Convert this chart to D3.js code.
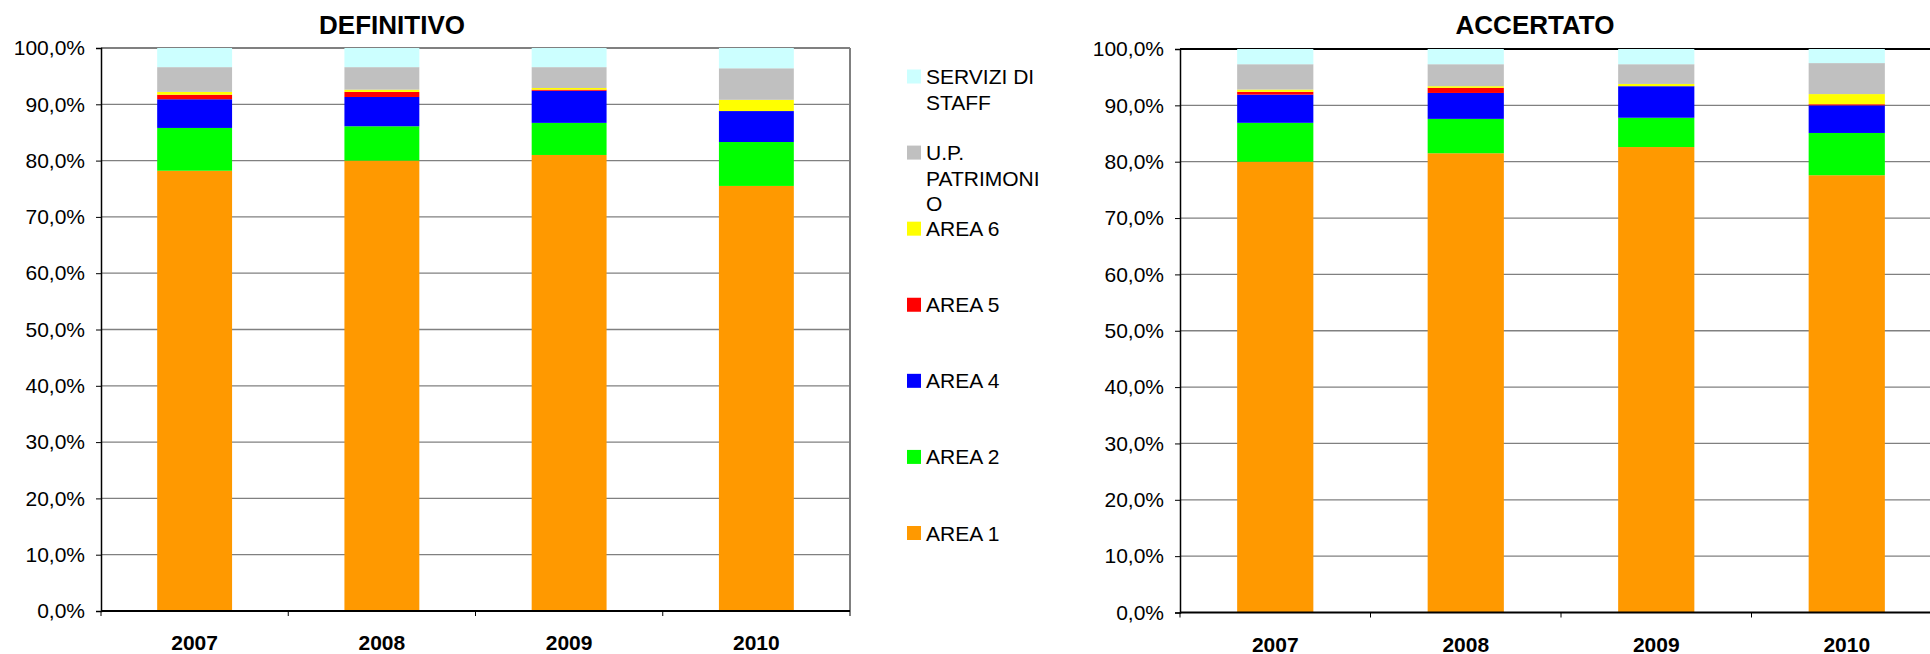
<!DOCTYPE html>
<html>
<head>
<meta charset="utf-8">
<script src="https://cdn.jsdelivr.net/npm/d3@7"></script>
<style>
  html, body { margin: 0; padding: 0; background: #fff; }
  svg { display: block; font-family: "Liberation Sans", Arial, sans-serif; }
</style>
</head>
<body>
<div id="chart"></div>
<script>
// categories and series
const years = ["2007", "2008", "2009", "2010"];
const seriesKeys = ["a1", "a2", "a4", "a5", "a6", "patr", "staff"];
const seriesColors = ["#FF9900", "#00FF00", "#0000FF", "#FF0000", "#FFFF00", "#C0C0C0", "#CCFFFF"];
const legendLines = [["AREA 1"], ["AREA 2"], ["AREA 4"], ["AREA 5"], ["AREA 6"], ["U.P.", "PATRIMONI", "O"], ["SERVIZI DI", "STAFF"]];
const yTicks = [0, 0.1, 0.2, 0.3, 0.4, 0.5, 0.6, 0.7, 0.8, 0.9, 1];

// DEFINITIVO (% of total)
const defArea1 = [78.2, 80.0, 81.0, 75.5];
const defArea2 = [7.6, 6.1, 5.7, 7.8];
const defArea4 = [5.1, 5.2, 5.7, 5.5];
const defArea5 = [0.8, 0.9, 0.2, 0.0];
const defArea6 = [0.5, 0.4, 0.3, 2.0];
const defPatr = [4.4, 4.0, 3.7, 5.6];
const defStaff = [3.4, 3.4, 3.4, 3.6];

// ACCERTATO (% of total)
const accArea1 = [80.0, 81.5, 82.6, 77.6];
const accArea2 = [6.9, 6.1, 5.2, 7.5];
const accArea4 = [5.0, 4.6, 5.6, 4.9];
const accArea5 = [0.5, 0.9, 0.0, 0.2];
const accArea6 = [0.4, 0.3, 0.4, 1.8];
const accPatr = [4.5, 3.9, 3.5, 5.5];
const accStaff = [2.7, 2.7, 2.7, 2.5];

const W = 1930, H = 654;
const it = d3.formatLocale({ decimal: ",", thousands: ".", grouping: [3], currency: ["", "€"] });
const pct = it.format(".1%");

const svg = d3.select("#chart").append("svg")
  .attr("width", W).attr("height", H);

function buildRows(cols) {
  return years.map((y, i) => {
    const row = { year: y };
    seriesKeys.forEach((k, j) => row[k] = cols[j][i]);
    return row;
  });
}

function drawChart(opts) {
  const rows = buildRows(opts.cols);
  const stack = d3.stack().keys(seriesKeys).offset(d3.stackOffsetExpand);
  const layers = stack(rows);

  const x = d3.scaleBand().domain(years)
    .range([opts.left, opts.right]).paddingInner(0.6).paddingOuter(0.3);
  const y = d3.scaleLinear().domain([0, 1]).range([opts.bottom, opts.top]);
  const step = x.step();

  const g = svg.append("g");

  // gridlines
  g.append("g").selectAll("line")
    .data(yTicks.filter(t => t > 0 && t < 1))
    .join("line")
    .attr("x1", opts.left).attr("x2", opts.right)
    .attr("y1", d => y(d)).attr("y2", d => y(d))
    .attr("stroke", "#808080").attr("stroke-width", 1.3);

  // plot border (top / right)
  g.append("line")
    .attr("x1", opts.left).attr("x2", opts.right)
    .attr("y1", y(1)).attr("y2", y(1))
    .attr("stroke", opts.topColor).attr("stroke-width", 2);
  g.append("line")
    .attr("x1", opts.right).attr("x2", opts.right)
    .attr("y1", y(1)).attr("y2", y(0))
    .attr("stroke", "#808080").attr("stroke-width", 2);

  // bars
  g.append("g").selectAll("g")
    .data(layers)
    .join("g")
    .attr("fill", (d, i) => seriesColors[i])
    .selectAll("rect")
    .data(d => d)
    .join("rect")
    .attr("x", d => x(d.data.year))
    .attr("width", x.bandwidth())
    .attr("y", d => y(d[1]))
    .attr("height", d => y(d[0]) - y(d[1]));

  // y axis
  const yAxis = g.append("g")
    .attr("transform", `translate(${opts.left},0)`)
    .call(d3.axisLeft(y).tickValues(yTicks).tickFormat(pct).tickSize(5).tickPadding(11));
  yAxis.select(".domain").attr("stroke", "#000").attr("stroke-width", 1.5);
  yAxis.selectAll(".tick line").attr("stroke", "#000");
  yAxis.selectAll("text").attr("font-size", 21).attr("fill", "#000")
    .attr("font-family", '"Liberation Sans", Arial, sans-serif');

  // x axis
  g.append("line")
    .attr("x1", opts.left).attr("x2", opts.right)
    .attr("y1", y(0)).attr("y2", y(0))
    .attr("stroke", "#000").attr("stroke-width", 2);
  g.append("g").selectAll("line")
    .data(d3.range(years.length + 1))
    .join("line")
    .attr("x1", i => opts.left + i * step).attr("x2", i => opts.left + i * step)
    .attr("y1", y(0)).attr("y2", y(0) + 5)
    .attr("stroke", "#000").attr("stroke-width", 1);
  g.append("g").selectAll("text")
    .data(years)
    .join("text")
    .attr("x", d => x(d) + x.bandwidth() / 2)
    .attr("y", y(0) + 39)
    .attr("text-anchor", "middle")
    .attr("font-size", 21).attr("font-weight", "bold")
    .text(d => d);

  // title
  g.append("text")
    .attr("x", opts.titleX).attr("y", 34)
    .attr("text-anchor", "middle")
    .attr("font-size", 26).attr("font-weight", "bold")
    .text(opts.title);
}

drawChart({
  title: "DEFINITIVO", titleX: 392,
  left: 101, right: 850, top: 48, bottom: 611, topColor: "#808080",
  cols: [defArea1, defArea2, defArea4, defArea5, defArea6, defPatr, defStaff]
});

drawChart({
  title: "ACCERTATO", titleX: 1535,
  left: 1180, right: 1942, top: 49, bottom: 612.5, topColor: "#000",
  cols: [accArea1, accArea2, accArea4, accArea5, accArea6, accPatr, accStaff]
});

// legend (top to bottom: reverse of stack order)
const legY = d3.scalePoint().domain(d3.range(seriesKeys.length).reverse())
  .range([76.5, 533]);
const leg = svg.append("g").selectAll("g")
  .data(d3.range(seriesKeys.length))
  .join("g")
  .attr("transform", i => `translate(907,${legY(i)})`);
leg.append("rect")
  .attr("x", 0).attr("y", -7).attr("width", 14).attr("height", 14)
  .attr("fill", i => seriesColors[i]);
leg.append("text")
  .attr("font-size", 21)
  .selectAll("tspan")
  .data(i => legendLines[i])
  .join("tspan")
  .attr("x", 19)
  .attr("y", (d, j) => 7.5 + j * 25.5)
  .text(d => d);
</script>
</body>
</html>
